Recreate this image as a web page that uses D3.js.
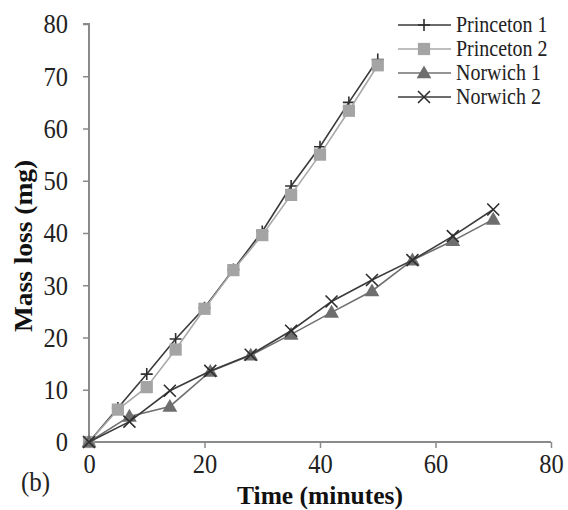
<!DOCTYPE html>
<html><head><meta charset="utf-8">
<script src="https://cdn.jsdelivr.net/npm/d3@7"></script>
<style>body{margin:0;background:#fff}svg{display:block}</style>
</head><body>
<script>
const princetonTime = [0,5,10,15,20,25,30,35,40,45,50];
const princeton1 = [0,6.5,13.0,19.7,25.7,33.0,40.3,49.0,56.5,65.0,73.2];
const princeton2 = [0,6.2,10.5,17.7,25.5,32.9,39.6,47.3,55.0,63.4,72.1];
const norwichTime = [0,7,14,21,28,35,42,49,56,63,70];
const norwich1 = [0,4.9,6.8,13.5,16.6,20.6,24.8,28.9,34.8,38.5,42.6];
const norwich2 = [0,3.9,9.8,13.6,16.7,21.3,26.9,31.0,34.8,39.4,44.5];
const seriesNames = ["Princeton 1","Princeton 2","Norwich 1","Norwich 2"];
const xTicks = [0,20,40,60,80];
const yTicks = [0,10,20,30,40,50,60,70,80];

const W=568,H=510,K=1.12;
const svg=d3.select("body").append("svg").attr("width",W).attr("height",H);
const x=d3.scaleLinear().domain([0,80]).range([89,551]);
const y=d3.scaleLinear().domain([0,80]).range([442,24]);
const font="'Liberation Serif','Times New Roman',serif";
const axisCol="#8a8a8a";
const stretch=(y0)=>`translate(0,${y0}) scale(1,${K}) translate(0,${-y0})`;

const xa=svg.append("g").attr("transform","translate(0,442)")
  .call(d3.axisBottom(x).tickValues(xTicks).tickSize(6).tickPadding(6).tickFormat(d3.format("d")));
const ya=svg.append("g").attr("transform","translate(89,0)")
  .call(d3.axisLeft(y).tickValues(yTicks).tickSize(6).tickPadding(15).tickFormat(d3.format("d")));
[xa,ya].forEach(g=>{
  g.select(".domain").attr("stroke",axisCol).attr("stroke-width",2);
  g.selectAll(".tick line").attr("stroke",axisCol).attr("stroke-width",1.5);
  g.selectAll("text").attr("fill","#222").style("font-family",font).style("font-size","24.5px");
});
xa.selectAll(".tick text").attr("transform",stretch(12));
ya.selectAll(".tick text").attr("transform",stretch(0));
xa.select(".domain").attr("d","M89,0H551");
ya.select(".domain").attr("d","M-6,24H0V442");

svg.append("text").attr("x",320).attr("y",504).attr("text-anchor","middle")
  .style("font-family",font).style("font-size","25.5px").style("font-weight","bold").attr("fill","#111")
  .text("Time (minutes)");
svg.append("text").attr("transform",`translate(32,246) scale(1,${K}) rotate(-90)`).attr("text-anchor","middle")
  .style("font-family",font).style("font-size","24.5px").style("font-weight","bold").attr("fill","#111")
  .text("Mass loss (mg)");
svg.append("text").attr("x",21).attr("y",491).attr("transform",stretch(491))
  .style("font-family",font).style("font-size","25px").attr("fill","#222").text("(b)");

const series=[
  {name:seriesNames[0],t:princetonTime,v:princeton1,line:"#3a3a3a",mk:"plus",mc:"#2e2e2e"},
  {name:seriesNames[1],t:princetonTime,v:princeton2,line:"#a8a8a8",mk:"square",mc:"#a4a4a4"},
  {name:seriesNames[2],t:norwichTime,v:norwich1,line:"#707070",mk:"tri",mc:"#6e6e6e"},
  {name:seriesNames[3],t:norwichTime,v:norwich2,line:"#3c3c3c",mk:"x",mc:"#2e2e2e"}
];
function marker(g,type,col,cx,cy){
  if(type==="plus"){
    g.append("path").attr("d",`M${cx-6},${cy}H${cx+6}M${cx},${cy-6}V${cy+6}`).attr("stroke",col).attr("stroke-width",1.6).attr("fill","none");
  } else if(type==="x"){
    g.append("path").attr("d",`M${cx-6},${cy-6}L${cx+6},${cy+6}M${cx-6},${cy+6}L${cx+6},${cy-6}`).attr("stroke",col).attr("stroke-width",1.6).attr("fill","none");
  } else if(type==="square"){
    g.append("path").attr("d",d3.symbol(d3.symbolSquare,150)()).attr("transform",`translate(${cx},${cy})`).attr("fill",col);
  } else {
    g.append("path").attr("d",d3.symbol(d3.symbolTriangle,95)()).attr("transform",`translate(${cx},${cy+1})`).attr("fill",col);
  }
}
const line=d3.line().x(d=>x(d[0])).y(d=>y(d[1]));
series.forEach(s=>{
  const pts=s.t.map((t,i)=>[t,s.v[i]]);
  const g=svg.append("g");
  g.append("path").attr("d",line(pts)).attr("fill","none").attr("stroke",s.line).attr("stroke-width",1.6);
  pts.forEach(p=>marker(g,s.mk,s.mc,x(p[0]),y(p[1])));
});
// legend
const lg=svg.append("g");
series.forEach((s,i)=>{
  const cy=25+i*24;
  lg.append("line").attr("x1",398).attr("x2",451).attr("y1",cy).attr("y2",cy).attr("stroke",s.line).attr("stroke-width",1.6);
  marker(lg,s.mk,s.mc,424,cy);
  lg.append("text").attr("x",456).attr("y",cy+7).attr("transform",stretch(cy+7))
    .style("font-family",font).style("font-size","20px").attr("fill","#222").text(s.name);
});
</script>
</body></html>
